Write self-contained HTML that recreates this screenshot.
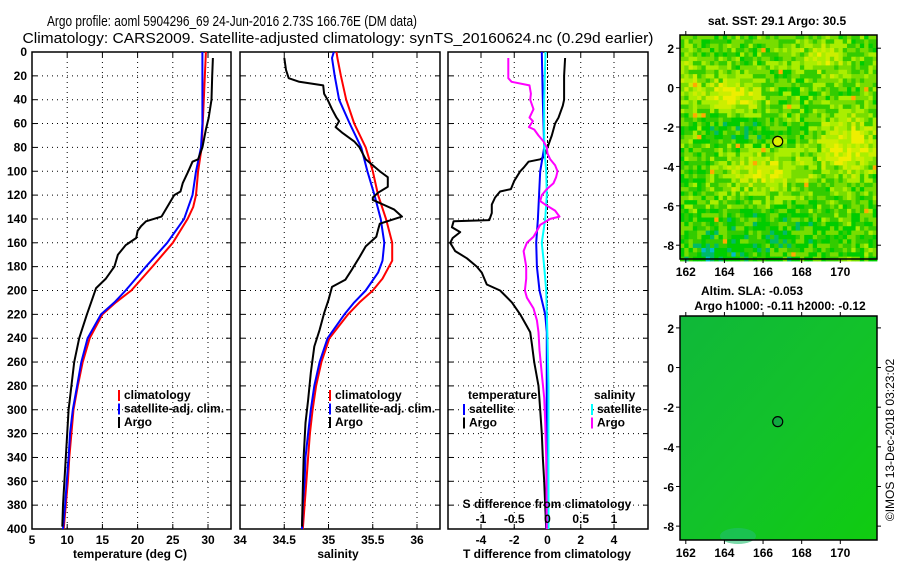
<!DOCTYPE html>
<html><head><meta charset="utf-8">
<style>
html,body{margin:0;padding:0;background:#fff;}
svg{display:block;font-family:"Liberation Sans",sans-serif;}
.t{font-size:12px;font-weight:bold;fill:#000;}
.ti{font-size:15px;fill:#000;}
.grid{stroke:#000;stroke-width:1;stroke-dasharray:1,4;}
</style></head>
<body>
<svg id="chart" width="900" height="580" viewBox="0 0 900 580" xmlns="http://www.w3.org/2000/svg">
<text class="ti" x="232" y="26" text-anchor="middle" textLength="370" lengthAdjust="spacingAndGlyphs">Argo profile: aoml 5904296_69 24-Jun-2016 2.73S 166.76E (DM data)</text>
<text class="ti" x="338" y="43" text-anchor="middle" textLength="631" lengthAdjust="spacingAndGlyphs">Climatology: CARS2009. Satellite-adjusted climatology: synTS_20160624.nc (0.29d earlier)</text>
<g id="g1"></g><g id="g2"></g><g id="g3"></g><g id="m1"></g><g id="m2"></g>
<text class="t" x="777" y="25" text-anchor="middle">sat. SST: 29.1 Argo: 30.5</text>
<text class="t" x="752" y="295" text-anchor="middle">Altim. SLA: -0.053</text>
<text class="t" x="780" y="310" text-anchor="middle">Argo h1000: -0.11 h2000: -0.12</text>
<text class="t" x="894" y="440" text-anchor="middle" transform="rotate(-90 894 440)" style="font-weight:normal">©IMOS 13-Dec-2018 03:23:02</text>
</svg>
<script>
const NS="http://www.w3.org/2000/svg";
// ---- data ----
const depthTicks=[0,20,40,60,80,100,120,140,160,180,200,220,240,260,280,300,320,340,360,380,400];
const tTicks=[5,10,15,20,25,30];
const sTicks=[34,34.5,35,35.5,36];
const dTTicks=[-4,-2,0,2,4];
const dSTicks=[-1,-0.5,0,0.5,1];
const dSTickLabels=["-1","-0.5","0","0.5","1"];
const climTdepth=[0,80,100,120,130,140,160,180,200,210,220,240,260,280,300,320,340,360,380,400];
const climT=[29.7,29.1,28.6,28.3,27.9,27.1,25.0,22.1,19.1,16.9,15.0,13.2,12.2,11.5,10.9,10.6,10.3,10.1,9.8,9.5];
const satTdepth=[0,60,80,100,120,140,160,180,200,210,220,240,260,280,300,320,340,360,380,400];
const satT=[29.2,29.2,29.0,28.3,27.8,26.6,24.2,21.2,18.3,16.7,14.8,12.9,12.0,11.4,10.8,10.4,10.2,9.95,9.7,9.4];
const argoTdepth=[5,20,40,55,65,80,90,92,100,110,117,120,130,138,142,146,150,156,162,170,180,190,198,210,220,240,260,280,300,320,340,360,380,398];
const argoT=[30.7,30.6,30.5,30.1,29.7,29.2,28.6,27.8,27.2,26.4,26.1,25.2,24.2,23.4,21.2,20.5,20.0,19.8,18.3,17.2,16.7,15.5,14.1,13.4,12.8,11.7,11.0,10.6,10.2,10.0,9.8,9.6,9.4,9.3];
const climSdepth=[0,5,20,40,60,80,100,120,140,160,175,190,200,210,220,240,260,280,300,320,340,360,380,400];
const climS=[35.09,35.1,35.14,35.2,35.29,35.42,35.5,35.56,35.65,35.72,35.72,35.61,35.5,35.35,35.22,35.01,34.92,34.86,34.82,34.79,34.77,34.75,34.73,34.71];
const satSdepth=[0,5,20,40,60,80,100,120,140,160,175,185,200,210,220,240,260,280,300,320,340,360,380,400];
const satS=[35.06,35.04,35.07,35.12,35.24,35.37,35.44,35.52,35.59,35.63,35.61,35.56,35.42,35.29,35.18,34.99,34.9,34.84,34.8,34.77,34.74,34.73,34.71,34.7];
const argoSdepth=[5,15,22,25,28,35,40,48,55,58,63,68,75,80,90,100,105,113,118,122,124,132,138,144,149,155,163,172,183,191,197,208,219,233,247,269,292,311,339,367,398];
const argoS=[34.5,34.52,34.55,34.67,34.94,34.95,34.99,35.04,35.09,35.12,35.08,35.16,35.29,35.35,35.42,35.58,35.67,35.67,35.56,35.5,35.5,35.74,35.83,35.58,35.56,35.54,35.42,35.35,35.26,35.19,35.04,35.0,34.95,34.9,34.84,34.8,34.77,34.74,34.72,34.71,34.7];
const dTargoDepth=[5,20,40,45,55,60,70,80,88,90,92,97,100,108,115,117,122,128,135,141,142,147,151,156,160,167,173,180,185,190,195,200,210,220,230,235,245,260,280,300,320,340,360,380,400];
const dTargo=[1.06,1.0,1.0,0.92,0.66,0.46,0.26,0,-0.2,-0.44,-1.14,-1.44,-1.64,-2.0,-2.2,-2.85,-3.15,-3.35,-3.35,-3.5,-5.65,-5.75,-5.25,-5.7,-5.85,-5.55,-4.85,-4.25,-3.95,-3.8,-3.65,-2.85,-2.14,-1.64,-1.24,-1.04,-0.94,-0.8,-0.54,-0.44,-0.34,-0.28,-0.2,-0.14,-0.08];
const dTsatDepth=[0,40,80,100,140,160,180,200,220,235,300,400];
const dTsat=[-0.34,-0.28,-0.2,-0.44,-0.58,-0.68,-0.64,-0.48,-0.14,-0.04,-0.05,-0.06];
const dSsatDepth=[0,40,80,100,120,140,160,180,200,240,280,400];
const dSsat=[-0.03,-0.05,-0.05,-0.02,-0.01,-0.035,-0.085,-0.05,-0.02,0,0.015,0.015];
const dSargoDepth=[5,22,25,28,35,40,48,55,58,63,65,70,75,80,85,90,95,100,105,110,115,120,125,128,133,138,140,145,150,155,160,167,180,190,200,206,215,225,235,250,270,290,310,340,400];
const dSargo=[-0.59,-0.59,-0.54,-0.27,-0.25,-0.26,-0.21,-0.27,-0.22,-0.28,-0.2,-0.135,-0.06,-0.01,0,0.04,0.115,0.15,0.13,0.09,-0.01,-0.085,-0.11,-0.035,0.115,0.18,0.04,-0.11,-0.16,-0.21,-0.31,-0.36,-0.32,-0.32,-0.34,-0.31,-0.21,-0.16,-0.135,-0.12,-0.085,-0.05,-0.035,-0.02,-0.01];
const lonTicks=[162,164,166,168,170];
const latTicks=[2,0,-2,-4,-6,-8];
const floatLon=[166.76];
const floatLat=[-2.73];

// ---- helpers ----
const svg=document.getElementById('chart');
function el(tag,attrs,parent){const e=document.createElementNS(NS,tag);for(const k in attrs)e.setAttribute(k,attrs[k]);(parent||svg).appendChild(e);return e;}
function txt(s,x,y,anchor,parent){const e=el('text',{class:'t',x:x,y:y,'text-anchor':anchor||'middle'},parent);e.textContent=s;return e;}
const Y0=52,Y1=529;
const yD=d=>Y0+(d/400)*(Y1-Y0);
function lin(d0,d1,r0,r1){return v=>r0+(v-d0)/(d1-d0)*(r1-r0);}

function panel(g,x0,x1,xs,ticks,tickFmt,showY){
  el('rect',{x:x0,y:Y0,width:x1-x0,height:Y1-Y0,fill:'#fff',stroke:'#000','stroke-width':1.5},g);
  depthTicks.forEach(d=>{
    const y=yD(d);
    if(d>0&&d<400){const l=el('line',{x1:x0,x2:x1,y1:y,y2:y,class:'grid'},g);
    
    }
    el('line',{x1:x0,x2:x0+5,y1:y,y2:y,stroke:'#000'},g);
    el('line',{x1:x1-5,x2:x1,y1:y,y2:y,stroke:'#000'},g);
    if(showY){const t=txt(String(d),27,y+4,'end',g);
    
    }
  });
  ticks.forEach((v,i)=>{
    const x=xs(v);
    if(x>x0+1&&x<x1-1){const l=el('line',{x1:x,x2:x,y1:Y0,y2:Y1,class:'grid'},g);
    
    }
    el('line',{x1:x,x2:x,y1:Y0,y2:Y0+5,stroke:'#000'},g);
    el('line',{x1:x,x2:x,y1:Y1-5,y2:Y1,stroke:'#000'},g);
    const t=txt(tickFmt(v,i),x,544,'middle',g);
    
    
  });
}
function line(g,xs,vals,depths,color,name,w){
  const pts=vals.map((v,i)=>xs(v).toFixed(1)+','+yD(depths[i]).toFixed(1)).join(' ');
  const p=el('polyline',{points:pts,fill:'none',stroke:color,'stroke-width':w||2,'stroke-linejoin':'round'},g);
  
  
}
function legend(g,x,y,items){
  items.forEach((it,i)=>{
    el('rect',{x:x,y:y+i*13.5-9,width:2,height:11,fill:it[1]},g);
    const t=txt(it[0],x+6,y+i*13.5,'start',g);
    
    
  });
}

// panel 1
const g1=document.getElementById('g1');


const xT=lin(5,30,32,208);
panel(g1,32,231,xT,tTicks,v=>String(v),true);
line(g1,xT,climT,climTdepth,'#ff0000','climatology-temperature-line');
line(g1,xT,satT,satTdepth,'#0000ff','satellite-temperature-line');
line(g1,xT,argoT,argoTdepth,'#000','argo-temperature-line');
legend(g1,118,399,[['climatology','#ff0000'],['satellite-adj. clim.','#0000ff'],['Argo','#000']]);
const xl1=txt('temperature (deg C)',130,558,'middle',g1);



// panel 2
const g2=document.getElementById('g2');


const xS=lin(34,36,240,417);
panel(g2,240,440,xS,sTicks,v=>String(v),false);
line(g2,xS,climS,climSdepth,'#ff0000','climatology-salinity-line');
line(g2,xS,satS,satSdepth,'#0000ff','satellite-salinity-line');
line(g2,xS,argoS,argoSdepth,'#000','argo-salinity-line');
legend(g2,329,399,[['climatology','#ff0000'],['satellite-adj. clim.','#0000ff'],['Argo','#000']]);
const xl2=txt('salinity',338,558,'middle',g2);



// panel 3
const g3=document.getElementById('g3');


const xdT=lin(-4,4,481,614);
const xdS=v=>xdT(v*4);
panel(g3,448,648,xdT,dTTicks,v=>String(v),false);
el('line',{x1:xdT(0),x2:xdT(0),y1:Y0,y2:Y1,stroke:'#000','stroke-dasharray':'2,2'},g3);
line(g3,xdT,dTargo,dTargoDepth,'#000','argo-temperature-difference-line');
line(g3,xdT,dTsat,dTsatDepth,'#0000ff','satellite-temperature-difference-line');
line(g3,xdS,dSsat,dSsatDepth,'#00ffff','satellite-salinity-difference-line');
line(g3,xdS,dSargo,dSargoDepth,'#ff00ff','argo-salinity-difference-line');
const th=txt('temperature',468,399,'start',g3);


legend(g3,463,413,[['satellite','#0000ff'],['Argo','#000']]);
const sh=txt('salinity',594,399,'start',g3);


legend(g3,591,413,[['satellite','#00ffff'],['Argo','#ff00ff']]);
const st=txt('S difference from climatology',547,508,'middle',g3);


dSTicks.forEach((v,i)=>{const t=txt(dSTickLabels[i],xdS(v),523,'middle',g3);

});
const tt=txt('T difference from climatology',547,558,'middle',g3);



// maps
function mapAxes(g,y0,y1,latTop,latBot){
  const X0=680,X1=877;
  const xl=lin(161.7,171.9,X0,X1), yl=lin(latTop,latBot,y0,y1);
  el('rect',{x:X0,y:y0,width:X1-X0,height:y1-y0,fill:'none',stroke:'#000','stroke-width':1.5},g);
  lonTicks.forEach(v=>{const x=xl(v);
    el('line',{x1:x,x2:x,y1:y0-4,y2:y0,stroke:'#000'},g);
    el('line',{x1:x,x2:x,y1:y1,y2:y1+4,stroke:'#000'},g);
    const t=txt(String(v),x,y1+17,'middle',g);
    
    });
  latTicks.forEach(v=>{const y=yl(v);
    el('line',{x1:X0-4,x2:X0,y1:y,y2:y,stroke:'#000'},g);
    el('line',{x1:X1,x2:X1+4,y1:y,y2:y,stroke:'#000'},g);
    const t=txt(String(v),674,y+5,'end',g);
    
    });
  const c=el('circle',{cx:xl(floatLon[0]),cy:yl(floatLat[0]),r:5,fill:'none',stroke:'#000','stroke-width':1.2},g);
  
  
  return [xl,yl];
}
// SST map texture
const m1=document.getElementById('m1');


let seed=12345;function rnd(){seed=(seed*1103515245+12345)&0x7fffffff;return seed/0x7fffffff;}
const gs=(x,y,cx,cy,sx,sy)=>Math.exp(-((x-cx)*(x-cx)/(sx*sx)+(y-cy)*(y-cy)/(sy*sy)));
const pal=['#00bbcc','#00bb66','#00cc00','#33cc00','#77dd00','#aaee00','#ccee00','#eeee00','#ffaa00'];
{
  const cw=197/46,ch=226/52;
  for(let j=0;j<52;j++)for(let i=0;i<46;i++){
    const lon=161.7+(i+0.5)*10.2/46, lat=2.67-(j+0.5)*11.37/52;
    let f=3.3+3.0*gs(lon,lat,164.5,-0.3,1.8,0.9)+3.0*gs(lon,lat,170.5,-2.8,1.6,1.6)+2.6*gs(lon,lat,166,-4.3,2.2,1.1)+2.0*gs(lon,lat,169,1.5,1.5,1.0)+1.5*gs(lon,lat,162,0.8,0.8,1.5)-1.2*gs(lon,lat,165,-2.2,1.8,0.6)-1.0*gs(lon,lat,166,-7.5,3,1.2)-2*gs(lon,lat,163.5,-8.5,1.2,0.6);
    f+= (rnd()-0.5)*3.0;
    let k=Math.max(0,Math.min(7,Math.round(f)));
    if(rnd()<0.005)k=8;
    el('rect',{x:(680+i*cw).toFixed(2),y:(35+j*ch).toFixed(2),width:(cw+0.4).toFixed(2),height:(ch+0.4).toFixed(2),fill:pal[k]},m1);
  }
  mapAxes(m1,35,259,2.67,-8.7);
  m1.lastChild.setAttribute('fill','#ddee00');
}
// SLA map
const m2=document.getElementById('m2');


{
  const defs=el('defs',{},m2);
  const lg=el('linearGradient',{id:'slag',x1:0,y1:0,x2:1,y2:1},defs);
  el('stop',{offset:'0','stop-color':'#10b83a'},lg);
  el('stop',{offset:'0.5','stop-color':'#12c22a'},lg);
  el('stop',{offset:'1','stop-color':'#10cc10'},lg);
  el('rect',{x:680,y:316,width:197,height:224,fill:'url(#slag)'},m2);
  el('ellipse',{cx:738,cy:536,rx:18,ry:8,fill:'#22c070',opacity:0.6},m2);
  mapAxes(m2,316,540,2.6,-8.7);
  m2.lastChild.setAttribute('fill','#10a840');
}
</script>
</body></html>
